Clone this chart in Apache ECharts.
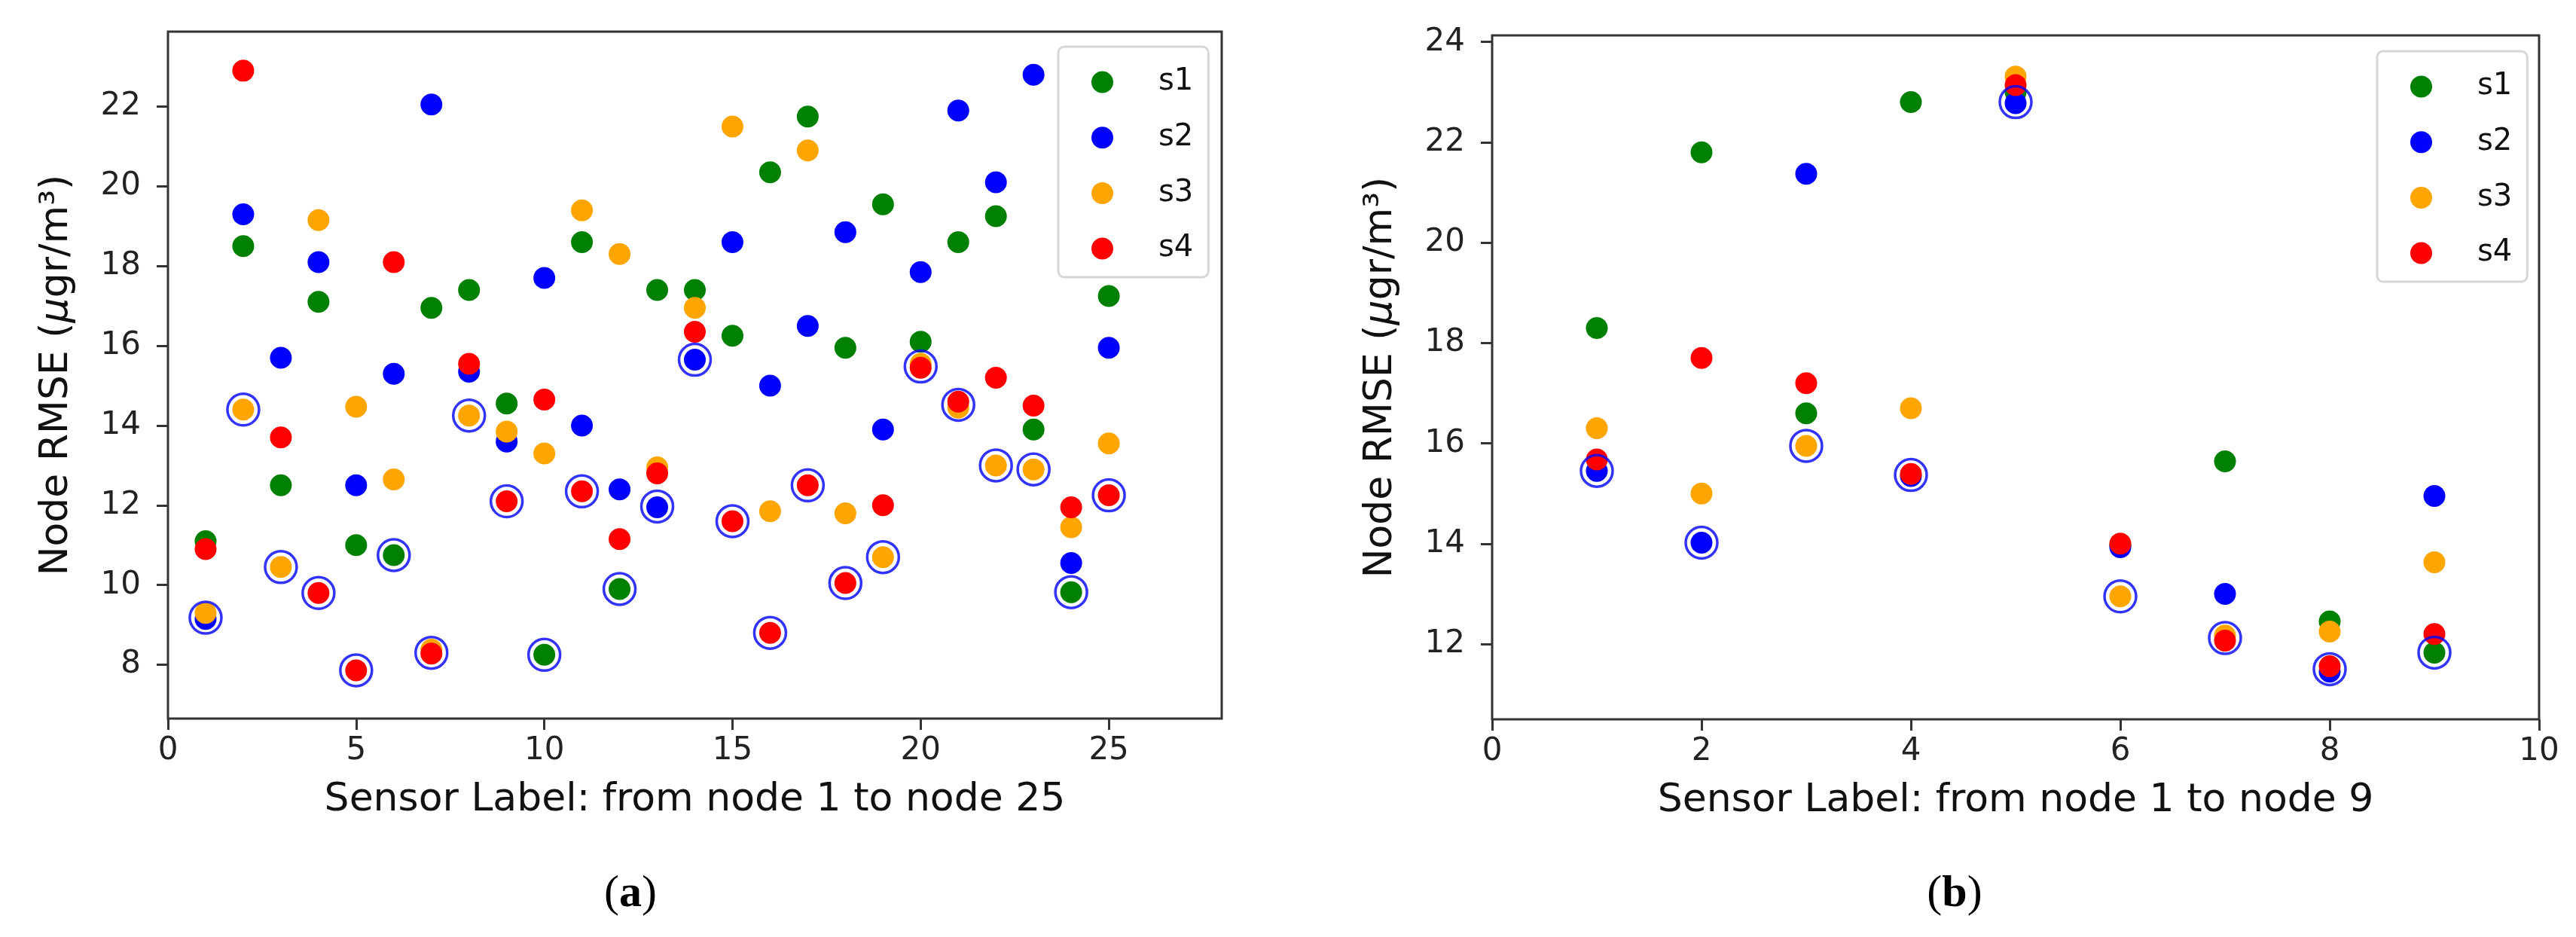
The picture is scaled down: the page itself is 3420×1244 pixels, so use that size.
<!DOCTYPE html>
<html>
<head>
<meta charset="utf-8">
<script src="https://cdn.jsdelivr.net/npm/echarts@6.0.0/dist/echarts.min.js"></script>
<style>
  html, body { margin: 0; padding: 0; background: #fff; }
  #main { width: 3420px; height: 1244px; }
</style>
</head>
<body>
<div id="main"></div>
<script>
// (a) 25 nodes
const nodesA = [1, 2, 3, 4, 5, 6, 7, 8, 9, 10, 11, 12, 13, 14, 15, 16, 17, 18, 19, 20, 21, 22, 23, 24, 25]
const s1A = [11.1, 18.5, 12.5, 17.1, 11.0, 10.75, 16.95, 17.4, 14.55, 8.25, 18.6, 9.9, 17.4, 17.4, 16.25, 20.35, 21.75, 15.95, 19.55, 16.1, 18.6, 19.25, 13.9, 9.82, 17.25]
const s2A = [9.15, 19.3, 15.7, 18.1, 12.5, 15.3, 22.05, 15.35, 13.6, 17.7, 14.0, 12.4, 11.95, 15.65, 18.6, 15.0, 16.5, 18.85, 13.9, 17.85, 21.9, 20.1, 22.8, 10.55, 15.95]
const s3A = [9.3, 14.4, 10.45, 19.15, 14.47, 12.65, 8.38, 14.25, 13.85, 13.3, 19.4, 18.3, 12.95, 16.95, 21.5, 11.85, 20.9, 11.8, 10.7, 15.55, 14.45, 13.0, 12.9, 11.45, 13.55]
const s4A = [10.9, 22.9, 13.7, 9.8, 7.86, 18.1, 8.28, 15.55, 12.1, 14.65, 12.35, 11.15, 12.8, 16.35, 11.6, 8.8, 12.5, 10.05, 12.0, 15.45, 14.6, 15.2, 14.5, 11.95, 12.25]
const bestA = [9.18, 14.4, 10.45, 9.8, 7.86, 10.75, 8.3, 14.25, 12.1, 8.25, 12.35, 9.9, 11.97, 15.65, 11.6, 8.8, 12.5, 10.05, 10.7, 15.48, 14.52, 13.0, 12.9, 9.82, 12.25]
const xTicksA = [0, 5, 10, 15, 20, 25]
const yTicksA = [8, 10, 12, 14, 16, 18, 20, 22]

// (b) 9 nodes
const nodesB = [1, 2, 3, 4, 5, 6, 7, 8, 9]
const s1B = [18.3, 21.8, 16.6, 22.8, 23.0, 13.97, 15.64, 12.45, 11.83]
const s2B = [15.45, 14.02, 21.37, 15.35, 22.78, 13.93, 13.0, 11.45, 14.95]
const s3B = [16.3, 15.0, 15.95, 16.7, 23.31, 12.95, 12.17, 12.25, 13.63]
const s4B = [15.68, 17.7, 17.2, 15.39, 23.14, 14.0, 12.07, 11.56, 12.2]
const bestB = [15.45, 14.02, 15.95, 15.37, 22.8, 12.95, 12.12, 11.5, 11.83]
const xTicksB = [0, 2, 4, 6, 8, 10]
const yTicksB = [12, 14, 16, 18, 20, 22, 24]

const names = ['s1', 's2', 's3', 's4']
const colors = ['#008000', '#0000ff', '#ffa500', '#ff0000']
const font = 'DejaVu Sans'

const chart = echarts.init(document.getElementById('main'))

function pts(xs, ys) {
  return xs.map((x, i) => [x, ys[i]])
}

function dotSeries(idx, xs, lists) {
  const out = lists.map((ys, k) => ({
    name: names[k],
    type: 'scatter',
    xAxisIndex: idx,
    yAxisIndex: idx,
    symbol: 'circle',
    symbolSize: 29,
    itemStyle: { color: colors[k], opacity: 1 },
    data: pts(xs, ys)
  }))
  return out
}

function ringSeries(idx, xs, ys) {
  return {
    name: 'best',
    type: 'scatter',
    xAxisIndex: idx,
    yAxisIndex: idx,
    symbol: 'circle',
    symbolSize: 42,
    z: 5,
    itemStyle: { color: 'rgba(0,0,0,0)', borderColor: '#0000ff', borderWidth: 3.5 },
    data: pts(xs, ys)
  }
}

function xAxis(idx, max, ticks, name) {
  return {
    type: 'value', gridIndex: idx, min: 0, max: max,
    name: name, nameLocation: 'middle', nameGap: 82,
    nameTextStyle: { fontFamily: font, fontSize: 52, color: '#111' },
    axisLine: { show: false },
    splitLine: { show: false },
    axisTick: { show: true, customValues: ticks, length: 15, lineStyle: { color: '#333', width: 3 } },
    axisLabel: { customValues: ticks, margin: 22, fontFamily: font, fontSize: 42, color: '#222' }
  }
}

function yAxis(idx, min, max, ticks) {
  return {
    type: 'value', gridIndex: idx, min: min, max: max,
    name: '{t|Node RMSE (}{m|μ}{t|gr/m³)}', nameLocation: 'middle', nameGap: 122,
    nameTextStyle: {
      rich: {
        t: { fontFamily: font, fontSize: 52, color: '#111' },
        m: { fontFamily: font, fontSize: 52, fontStyle: 'italic', color: '#111' }
      }
    },
    axisLine: { show: false },
    splitLine: { show: false },
    axisTick: { show: true, customValues: ticks, length: 15, lineStyle: { color: '#333', width: 3 } },
    axisLabel: { customValues: ticks, margin: 36, fontFamily: font, fontSize: 42, color: '#222' }
  }
}

function legend(left, top) {
  return {
    data: names,
    orient: 'vertical',
    left: left, top: top,
    icon: 'circle',
    itemWidth: 29, itemHeight: 29, itemGap: 33.7,
    padding: [27, 20, 18, 44],
    borderColor: '#d6d6d6', borderWidth: 3, borderRadius: 8,
    backgroundColor: '#fff',
    textStyle: { fontFamily: font, fontSize: 40, color: '#111', lineHeight: 29, padding: [0, 0, 0, 55] }
  }
}

function caption(x, letter) {
  return {
    type: 'text', x: x, y: 1187,
    style: {
      text: '{n|(}{b|' + letter + '}{n|)}',
      align: 'center', verticalAlign: 'middle',
      rich: {
        n: { fontFamily: 'Liberation Serif', fontSize: 60, fill: '#000' },
        b: { fontFamily: 'Liberation Serif', fontSize: 60, fontWeight: 'bold', fill: '#000' }
      }
    }
  }
}

const option = {
  animation: false,
  backgroundColor: '#fff',
  grid: [
    { left: 223, top: 42, width: 1399, height: 912, show: true, borderColor: '#333', borderWidth: 3, backgroundColor: 'transparent' },
    { left: 1981, top: 47, width: 1390, height: 908, show: true, borderColor: '#333', borderWidth: 3, backgroundColor: 'transparent' }
  ],
  xAxis: [
    xAxis(0, 28, xTicksA, 'Sensor Label: from node 1 to node 25'),
    xAxis(1, 10, xTicksB, 'Sensor Label: from node 1 to node 9')
  ],
  yAxis: [
    yAxis(0, 6.65, 23.88, yTicksA),
    yAxis(1, 10.5, 24.13, yTicksB)
  ],
  legend: [legend(1405, 62), legend(3156, 68)],
  graphic: [caption(837, 'a'), caption(2595, 'b')],
  series: [
    ...dotSeries(0, nodesA, [s1A, s2A, s3A, s4A]),
    ringSeries(0, nodesA, bestA),
    ...dotSeries(1, nodesB, [s1B, s2B, s3B, s4B]),
    ringSeries(1, nodesB, bestB)
  ]
}

option && chart.setOption(option)
window.addEventListener('resize', () => {
  chart.resize()
})
</script>
</body>
</html>
